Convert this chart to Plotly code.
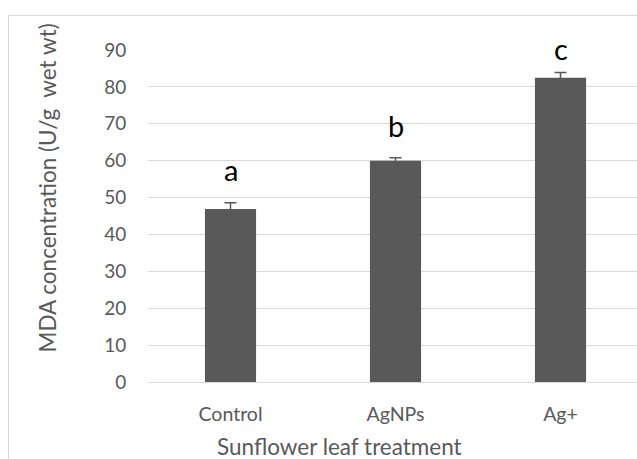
import plotly.graph_objects as go

# Treatments and measured MDA content
treatments = ["Control", "AgNPs", "Ag+"]
mda_values = [46.9, 60.0, 82.5]
mda_errors = [1.7, 0.8, 1.4]

# Significance letters and the heights they sit at (in data units)
sig_letters = ["a", "b", "c"]
sig_heights = [57.7, 69.6, 90.3]

y_ticks = [0, 10, 20, 30, 40, 50, 60, 70, 80, 90]
y_max = 90

W, H = 637, 459
L, R, T, B = 148, 0, 50, 77
PW, PH = W - L - R, H - T - B
text_grey = "#595959"
grid_grey = "#d9d9d9"
font_family = "Lato"


def px_x(px):
    return (px - L) / PW


def px_y(py):
    return (H - B - py) / PH


x_pos = list(range(len(treatments)))

fig = go.Figure()
fig.add_trace(go.Bar(
    x=x_pos,
    y=mda_values,
    width=0.31,
    marker=dict(color="#595959", line=dict(width=0)),
    error_y=dict(type="data", array=mda_errors, visible=True,
                 color="#595959", thickness=1.5, width=6),
    showlegend=False,
))

# Letters placed in y-domain units so the top one can sit above the range
for xi, letter, yh in zip(x_pos, sig_letters, sig_heights):
    fig.add_annotation(x=xi, y=yh / y_max, xref="x", yref="y domain",
                       text=letter, showarrow=False,
                       xanchor="center", yanchor="middle",
                       font=dict(family=font_family, size=29, color="#000000"))

# Axis titles
fig.add_annotation(x=px_x(47), y=px_y(188.5), xref="paper", yref="paper",
                   text="MDA concentration (U/g  wet wt)", textangle=-90,
                   showarrow=False, xanchor="center", yanchor="middle",
                   font=dict(family=font_family, size=22.5, color=text_grey))
fig.add_annotation(x=px_x(339), y=px_y(446), xref="paper", yref="paper",
                   text="Sunflower leaf treatment",
                   showarrow=False, xanchor="center", yanchor="middle",
                   font=dict(family=font_family, size=22.5, color=text_grey))

# Chart frame
fig.add_shape(type="rect", xref="paper", yref="paper",
              x0=px_x(8.5), x1=1.2, y0=-0.4, y1=px_y(15.5),
              line=dict(color=grid_grey, width=1), layer="below")

fig.update_layout(
    width=W, height=H,
    margin=dict(l=L, r=R, t=T, b=B, pad=0),
    paper_bgcolor="white", plot_bgcolor="white",
    bargap=0.69,
    font=dict(family=font_family, color=text_grey, size=19),
    xaxis=dict(
        range=[-0.5, -0.5 + PW / 165.0],
        tickmode="array", tickvals=x_pos, ticktext=treatments,
        showgrid=False, zeroline=False,
        showline=True, linecolor=grid_grey, linewidth=1,
        ticks="outside", ticklen=15, tickcolor="rgba(0,0,0,0)",
        tickfont=dict(family=font_family, size=19.5, color=text_grey),
    ),
    yaxis=dict(
        range=[0, y_max],
        tickmode="array", tickvals=y_ticks,
        showgrid=True, gridcolor=grid_grey, gridwidth=1,
        zeroline=False, showline=False,
        ticks="outside", ticklen=17, tickcolor="rgba(0,0,0,0)",
        tickfont=dict(family=font_family, size=19, color=text_grey),
    ),
)

fig.write_html("out.html")
